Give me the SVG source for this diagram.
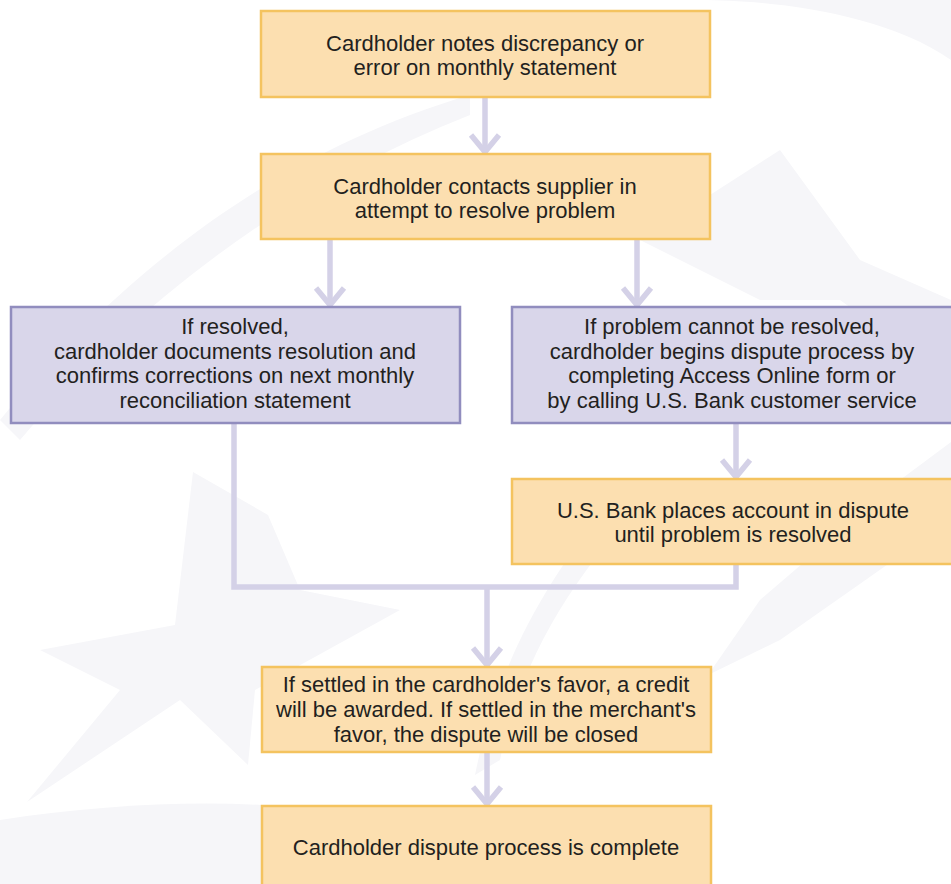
<svg xmlns="http://www.w3.org/2000/svg" width="951" height="884" viewBox="0 0 951 884">
<defs>
<style>
.bg{fill:#F6F6F9}
.o{fill:#FCDFB0;stroke:#F4C35F;stroke-width:2.5}
.p{fill:#D9D6EA;stroke:#918DBE;stroke-width:2.5}
.t{font-family:"Liberation Sans",Arial,sans-serif;font-size:22px;fill:#231F20;text-anchor:middle}
.c{fill:none;stroke:#D4D1E7;stroke-width:5.5}
</style>
<marker id="ah" markerUnits="userSpaceOnUse" viewBox="-22 -18 26 36" markerWidth="26" markerHeight="36" refX="0" refY="0" orient="auto">
<path d="M-17,-14 L0,0 L-17,14" fill="none" stroke="#D4D1E7" stroke-width="5.5" stroke-linejoin="round"/>
</marker>
</defs>
<rect width="951" height="884" fill="#FFFFFF"/>
<g id="watermark">
<path class="bg" d="M0,820 C200,790 380,800 520,860 L520,884 L0,884 Z"/>
<path class="bg" d="M40,650 L175,625 L193,472 L268,515 L300,590 L400,610 L255,690 L248,765 L180,700 L27,802 L120,690 Z"/>
<path class="bg" d="M951,442 L900,480 L760,600 L708,675 L780,640 L951,520 Z"/>
<path class="bg" d="M625,485 C560,560 500,650 475,775 L500,760 C520,660 580,560 660,490 Z"/>
<path class="bg" d="M0,420 C100,300 250,160 470,95 L470,115 C280,190 130,310 20,440 Z"/>
<path class="bg" d="M951,60 C880,10 760,0 700,0 L951,0 Z"/>
<path class="bg" d="M640,240 L780,150 L860,260 L951,300 L951,380 L840,300 L760,300 Z"/>
</g>
<g id="connectors">
<path class="c" d="M485,97 V152" marker-end="url(#ah)"/>
<path class="c" d="M330,239 V305" marker-end="url(#ah)"/>
<path class="c" d="M637,239 V305" marker-end="url(#ah)"/>
<path class="c" d="M736,423 V477" marker-end="url(#ah)"/>
<path class="c" d="M234,423 V587 H736 V564"/>
<path class="c" d="M487,587 V665" marker-end="url(#ah)"/>
<path class="c" d="M487,752 V804" marker-end="url(#ah)"/>
</g>
<g id="n1">
<rect class="o" x="261" y="11" width="449" height="86"/>
<text class="t" x="485" y="51">Cardholder notes discrepancy or</text>
<text class="t" x="485" y="75">error on monthly statement</text>
</g>
<g id="n2">
<rect class="o" x="261" y="154" width="449" height="85"/>
<text class="t" x="485" y="194">Cardholder contacts supplier in</text>
<text class="t" x="485" y="218">attempt to resolve problem</text>
</g>
<g id="n3">
<rect class="p" x="11" y="307" width="449" height="116"/>
<text class="t" x="235" y="334">If resolved,</text>
<text class="t" x="235" y="358.5">cardholder documents resolution and</text>
<text class="t" x="235" y="383">confirms corrections on next monthly</text>
<text class="t" x="235" y="407.5">reconciliation statement</text>
</g>
<g id="n4">
<rect class="p" x="512" y="307" width="445" height="116"/>
<text class="t" x="732" y="334">If problem cannot be resolved,</text>
<text class="t" x="732" y="358.5">cardholder begins dispute process by</text>
<text class="t" x="732" y="383">completing Access Online form or</text>
<text class="t" x="732" y="407.5">by calling U.S. Bank customer service</text>
</g>
<g id="n5">
<rect class="o" x="512" y="479" width="445" height="85"/>
<text class="t" x="733" y="518">U.S. Bank places account in dispute</text>
<text class="t" x="733" y="542">until problem is resolved</text>
</g>
<g id="n6">
<rect class="o" x="262" y="667" width="449" height="85"/>
<text class="t" x="486" y="692">If settled in the cardholder's favor, a credit</text>
<text class="t" x="486" y="717">will be awarded. If settled in the merchant's</text>
<text class="t" x="486" y="742">favor, the dispute will be closed</text>
</g>
<g id="n7">
<rect class="o" x="262" y="806" width="449" height="85"/>
<text class="t" x="486" y="855">Cardholder dispute process is complete</text>
</g>
</svg>
